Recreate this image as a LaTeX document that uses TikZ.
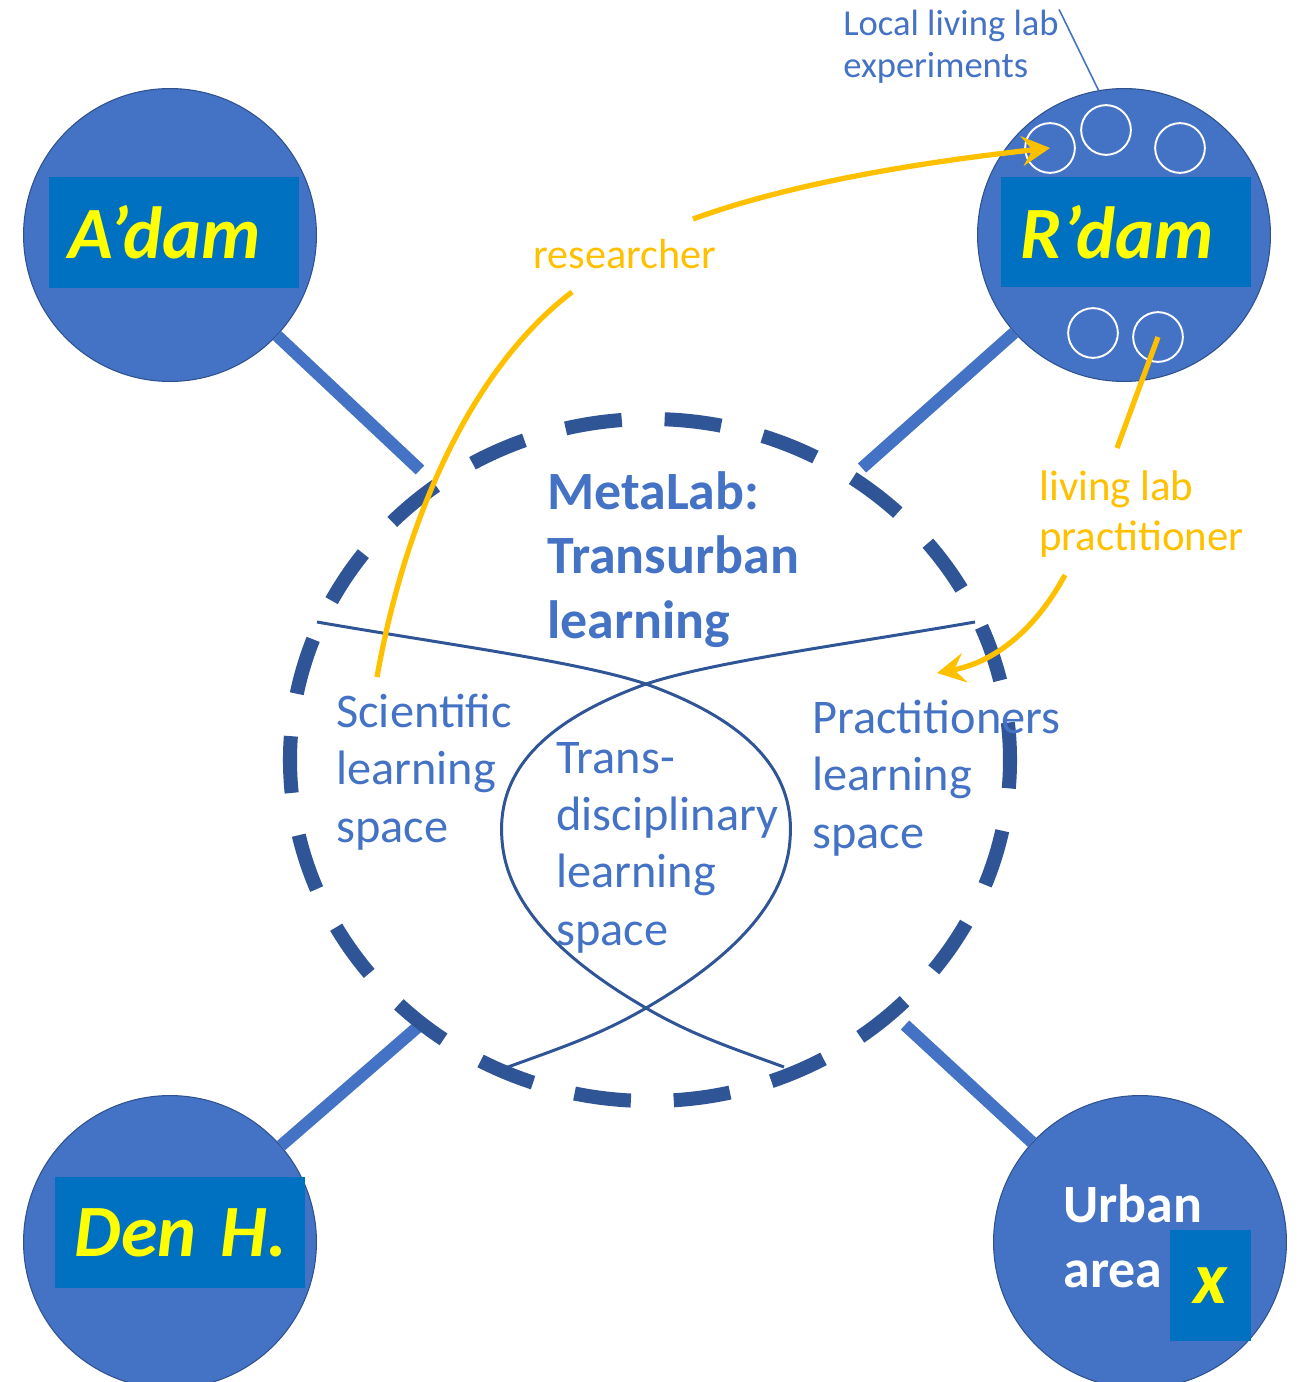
\documentclass[tikz,border=0pt]{standalone}
\usepackage{fontspec}
\setmainfont{Carlito}
\usepackage{tikz}
\definecolor{areablue}{HTML}{4472C4}
\definecolor{areaedge}{HTML}{2F528F}
\definecolor{ringblue}{HTML}{2F5597}
\definecolor{tagblue}{HTML}{0070C0}
\definecolor{gold}{HTML}{FFC000}
\definecolor{tagyellow}{HTML}{FFFF00}
\newcommand{\fs}[2]{\fontsize{#1}{#2}\selectfont}
\usetikzlibrary{arrows.meta}

\begin{document}
\begin{tikzpicture}
[x=0.02cm, y=-0.02cm,
 area/.style={circle, fill=areablue, draw=areaedge, line width=0.6pt, minimum size=166.7pt, inner sep=0pt},
 lab/.style={circle, draw=white, line width=1.1pt, minimum size=28.3pt, inner sep=0pt},
 tag/.style={fill=tagblue, text=tagyellow, font=\fs{42}{50}\bfseries\itshape, minimum height=63pt, text width=120pt, inner xsep=11pt, inner ysep=0pt, align=left},
 link/.style={draw=areablue, line width=7pt},
 ring/.style={draw=ringblue, line width=8pt, dash pattern=on 32.35pt off 24.41pt, dash phase=16.2pt},
 weave/.style={draw=ringblue, line width=1.7pt},
 pull/.style={draw=gold, line width=3pt},
 tip/.style={pull, -{Stealth[length=16pt, width=17pt, inset=6pt]}},
 leader/.style={draw=areablue, line width=0.9pt},
 txt/.style={text=areablue, anchor=base west, align=left, inner sep=0pt, font=\fs{27.5}{32.5}}]
\useasboundingbox (0,0) rectangle (1299,1382);

\coordinate (c1) at (420,470); \coordinate (c2) at (862,468);
\coordinate (c3) at (420,1025); \coordinate (c4) at (905,1025);

\node[area] (adam) at (170,235) {};
\node[area] (rdam) at (1124,235) {};
\node[area] (denh) at (170,1242) {};
\node[area] (urban) at (1140,1242) {};
\draw[link] (adam) -- (c1);
\draw[link] (rdam) -- (c2);
\draw[link] (denh) -- (c3);
\draw[link] (urban) -- (c4);

\node[tag] (adamtag) at (174,232.5) {A’dam};
\node[tag] (rdamtag) at (1126,232) {R’dam};
\node[tag] (denhtag) at (180,1232.5) {\mbox{Den H.}};
\node[txt, text=white, font=\fs{30.7}{36.8}\bfseries] (urbantxt) at (1063,1287) {Urban\\area};
\node[tag, text width=46pt, inner xsep=0pt, align=center, minimum height=63pt] (xtag) at (1210.5,1285.5) {x};

\node[lab] (lab1) at (1050,148) {}; \node[lab] (lab2) at (1106,130) {};
\node[lab] (lab3) at (1180,148) {};
\node[lab] (lab4) at (1093,333) {}; \node[lab] (lab5) at (1158,337) {};

\draw[ring] (650,760) ellipse [x radius=360, y radius=341];

\draw[weave] (317,622) .. controls (450,645) and (580,662) .. (646,684)
  .. controls (760,725) and (795,780) .. (790,840)
  .. controls (785,910) and (720,965) .. (646,1008)
  .. controls (600,1035) and (560,1048) .. (508,1067);
\draw[weave] (975,622) .. controls (842,645) and (712,662) .. (646,684)
  .. controls (532,725) and (497,780) .. (502,840)
  .. controls (507,910) and (572,965) .. (646,1008)
  .. controls (692,1035) and (732,1048) .. (784,1067);

\node[txt, font=\fs{30.7}{36.5}\bfseries] (metalab) at (547,638) {MetaLab:\\Transurban\\learning};
\node[txt] (sci) at (336,842) {Scientific\\learning\\space};
\node[txt] (trans) at (556,945) {Trans-\\disciplinary\\learning\\space};
\node[txt] (prac) at (812,848) {Practitioners\\learning\\space};

\node[txt, text=gold, font=\fs{24}{28}] (res) at (533,268) {researcher};
\node[txt, text=gold, font=\fs{24.4}{28.3}] (llp) at (1039,550) {living lab\\practitioner};
\node[txt, font=\fs{20.8}{24.4}] (llexp) at (843,78) {Local living lab\\experiments};
\draw[leader] (llexp.north east) -- (rdam.100);

\coordinate (r0) at (377,677); \coordinate (r1) at (572,292); \coordinate (r2) at (693,219);
\draw[pull] (r0) .. controls (405,520) and (470,370) .. (r1);
\draw[tip] (r2) .. controls (800,180) and (940,160) .. (lab1.center);
\coordinate (p1) at (1117,448); \coordinate (p2) at (1065,575); \coordinate (p3) at (937,673);
\draw[pull] (lab5.center) -- (p1);
\draw[tip] (p2) .. controls (1035,630) and (995,662) .. (p3);

\end{tikzpicture}
\end{document}
